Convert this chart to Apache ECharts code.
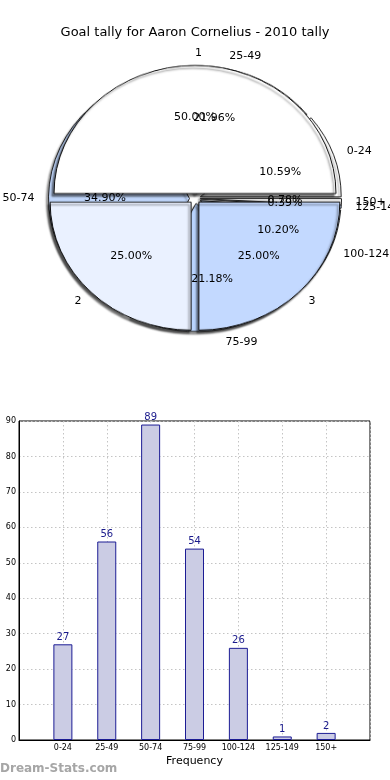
<!DOCTYPE html>
<html><head><meta charset="utf-8">
<script src="https://cdn.jsdelivr.net/npm/echarts@6/dist/echarts.min.js"></script>
<style>
html,body{margin:0;padding:0;background:#fff}
#wrap{position:relative;width:390px;height:780px}
#p{position:absolute;left:0;top:0;width:390px;height:400px;transform-origin:195px 198.5px;transform:scale(1,0.908)}
#c{position:absolute;left:0;top:0;width:390px;height:780px}
</style>
</head><body><div id="wrap"><div id="p"></div><div id="c"></div></div>
<script>
const titleText = 'Goal tally for Aaron Cornelius - 2010 tally';
const categories = ['0-24','25-49','50-74','75-99','100-124','125-149','150+'];
const frequencies = [27,56,89,54,26,1,2];
const groupNames = ['1','2','3'];
const groupValues = [50,25,25];
const binColors = ['#ffffff','#ffffff','#c0d6fb','#b9d4fe','#c3d8fe','#c3d8fe','#ffffff'];
const groupColors = ['#ffffff','#eaf1ff','#c3d9ff'];

const FONT = 'DejaVu Sans';
const CX = 195, CY = 198.5, RX = 141, SY = 0.908, RY = RX * SY;
const EXPLODE = 5.5;
const total = frequencies.reduce((a,b)=>a+b,0);
const gTotal = groupValues.reduce((a,b)=>a+b,0);

/* pie wedges (elliptical: drawn as a circle, squashed vertically by CSS) */
const pie = echarts.init(document.getElementById('p'), null, {renderer:'canvas'});
pie.setOption({
  animation:false,
  series:[
    {type:'pie', z:1, center:[CX,CY], radius:[0,RX], startAngle:0, clockwise:false,
     selectedMode:'multiple', selectedOffset:EXPLODE, silent:true, emphasis:{disabled:true},
     itemStyle:{borderColor:'#222', borderWidth:1, shadowColor:'rgba(0,0,0,0.4)', shadowBlur:2, shadowOffsetX:-2, shadowOffsetY:3},
     label:{show:false}, labelLine:{show:false},
     data:categories.map((c,i)=>({name:c, value:frequencies[i], selected:true, itemStyle:{color:binColors[i]}}))},
    {type:'pie', z:2, center:[CX,CY], radius:[0,RX], startAngle:0, clockwise:false,
     selectedMode:'multiple', selectedOffset:EXPLODE, silent:true, emphasis:{disabled:true},
     itemStyle:{borderColor:'#111', borderWidth:1, shadowColor:'rgba(0,0,0,0.5)', shadowBlur:2, shadowOffsetX:-2, shadowOffsetY:3},
     label:{show:false}, labelLine:{show:false},
     data:groupNames.map((n,i)=>({name:n, value:groupValues[i], selected:true, itemStyle:{color:groupColors[i]}}))}
  ]
});

/* label placement on the ellipse (matplotlib style: pct at 0.6 r, names at 1.1 r, plus explode) */
function ellLayout(k, sideAlign){
  return function(p){
    const r = p.labelRect;
    const x0 = r.x + r.width/2, y0 = r.y + r.height/2;
    const dx = x0 - CX, dy = y0 - CY, d = Math.hypot(dx,dy) || 1;
    const ux = dx/d, uy = dy/d;
    const x = CX + ux*(k*RX + EXPLODE);
    const y = CY + uy*(k*RY + EXPLODE*SY);
    return {x:x, y:y, align: sideAlign ? (ux > -0.01 ? 'left' : 'right') : 'center', verticalAlign:'middle', hideOverlap:false, moveOverlap:null};
  };
}
const LR = 100;
function labelPie(names, values, fmt, layout){
  return {type:'pie', z:5, center:[CX,CY], radius:[0,LR], startAngle:0, clockwise:false,
    avoidLabelOverlap:false, silent:true, emphasis:{disabled:true},
    itemStyle:{color:'rgba(0,0,0,0)', borderWidth:0},
    label:{show:true, position:'inside', color:'#000', fontSize:11, fontFamily:FONT, formatter:fmt},
    labelLine:{show:false},
    labelLayout:layout,
    data:names.map((n,i)=>({name:n, value:values[i]}))};
}

const chart = echarts.init(document.getElementById('c'), null, {renderer:'canvas'});
chart.setOption({
  animation:false,
  backgroundColor:'transparent',
  title:{text:titleText, left:'center', top:21, textStyle:{fontSize:13, fontWeight:'normal', color:'#000', fontFamily:FONT}},
  graphic:[{type:'text', left:0, top:763, style:{text:'Dream-Stats.com', fill:'#a6a6a6', font:'bold 12px "DejaVu Sans"'}}],
  grid:{left:19, right:20, top:421, bottom:40, show:true, borderColor:'#000', borderWidth:1, backgroundColor:'#fff'},
  xAxis:{type:'value', min:-1, max:7, interval:1,
    axisLine:{show:true, onZero:false, lineStyle:{color:'#000'}},
    axisTick:{show:false},
    axisLabel:{fontSize:8, color:'#000', fontFamily:FONT, margin:4, formatter:v=>categories[v]||''},
    splitLine:{show:true, lineStyle:{type:[1.5,2.5], color:'#c4c4c4', width:1}},
    name:'Frequency', nameLocation:'middle', nameGap:16, nameTextStyle:{fontSize:11, color:'#000', fontFamily:FONT}},
  yAxis:{type:'value', min:0, max:90, interval:10,
    axisLine:{show:true, onZero:false, lineStyle:{color:'#000'}},
    axisTick:{show:false},
    axisLabel:{fontSize:8, color:'#000', fontFamily:FONT, margin:3},
    splitLine:{show:true, lineStyle:{type:[1.5,2.5], color:'#c4c4c4', width:1}}},
  series:[
    labelPie(categories, frequencies, p=>(p.value/total*100).toFixed(2)+'%', ellLayout(0.6, false)),
    labelPie(groupNames, groupValues, p=>(p.value/gTotal*100).toFixed(2)+'%', ellLayout(0.6, false)),
    labelPie(categories, frequencies, p=>p.name, ellLayout(1.1, true)),
    labelPie(groupNames, groupValues, p=>p.name, ellLayout(1.1, true)),
    {type:'bar', barWidth:19,
     itemStyle:{color:'#cbcce4', borderColor:'#1c1c94', borderWidth:1},
     label:{show:true, position:'top', distance:2, color:'#1a1a8c', fontSize:10, fontFamily:FONT},
     data:frequencies.map((v,i)=>[i,v])}
  ]
});
</script></body></html>
